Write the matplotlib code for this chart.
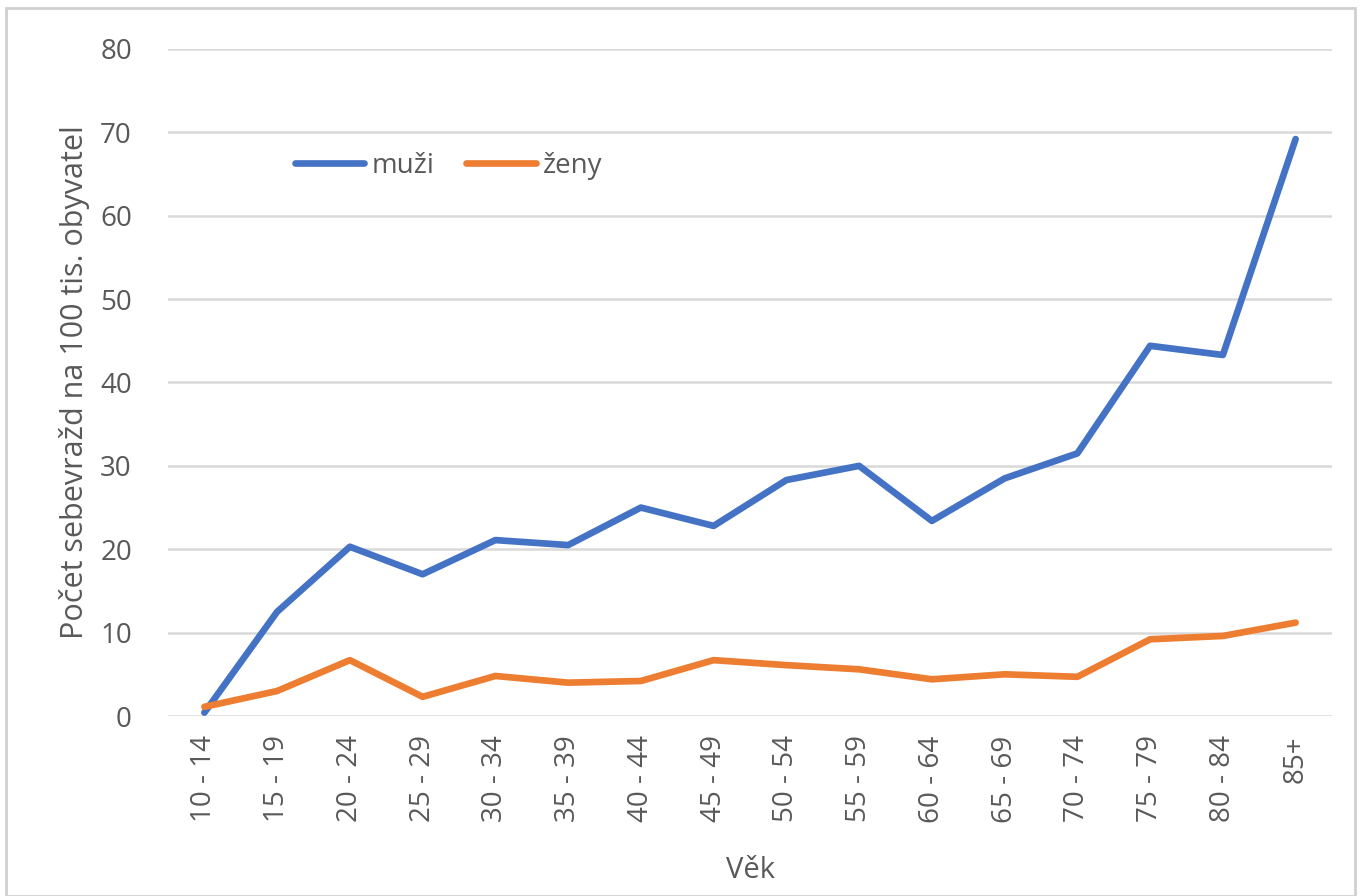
import matplotlib.pyplot as plt
from matplotlib.patches import Rectangle

plt.rcParams['font.family'] = ['Open Sans', 'DejaVu Sans']

vek = ['10 - 14', '15 - 19', '20 - 24', '25 - 29', '30 - 34', '35 - 39', '40 - 44', '45 - 49',
       '50 - 54', '55 - 59', '60 - 64', '65 - 69', '70 - 74', '75 - 79', '80 - 84', '85+']
muzi = [0.4, 12.5, 20.3, 17.0, 21.1, 20.5, 25.0, 22.8, 28.3, 30.0, 23.4, 28.5, 31.5, 44.4, 43.3, 69.2]
zeny = [1.1, 3.0, 6.7, 2.3, 4.8, 4.0, 4.2, 6.7, 6.1, 5.6, 4.4, 5.0, 4.7, 9.2, 9.6, 11.2]

text_color = '#595959'
grid_color = '#d9d9d9'

fig = plt.figure(figsize=(13.61, 8.96), dpi=100)
ax = fig.add_axes([168 / 1361, 1 - 716 / 896, (1332 - 168) / 1361, (716 - 49) / 896])

x = list(range(len(vek)))
ax.plot(x, muzi, color='#4472C4', lw=4.8, solid_capstyle='round', label='muži')
ax.plot(x, zeny, color='#ED7D31', lw=4.8, solid_capstyle='round', label='ženy')

ax.set_xlim(-0.5, len(vek) - 0.5)
ax.set_ylim(0, 80)
ax.set_yticks(range(0, 81, 10))
ax.set_xticks(x)
ax.set_xticklabels(vek, rotation=90)
ax.grid(axis='y', color=grid_color, lw=1.8)
ax.set_axisbelow(True)
for s in ax.spines.values():
    s.set_visible(False)
ax.tick_params(axis='both', length=0, labelsize=20, colors=text_color)
ax.tick_params(axis='y', pad=26)
ax.tick_params(axis='x', pad=14)

ax.set_ylabel('Počet sebevražd na 100 tis. obyvatel', fontsize=22, color=text_color, va='center')
ax.yaxis.set_label_coords(-0.08, 0.5)
ax.set_xlabel('Věk', fontsize=21, color=text_color, va='center')
ax.xaxis.set_label_coords(0.5, -0.231)

leg = ax.legend(loc='center left', bbox_to_anchor=(0.109, 0.8246), ncol=2, frameon=False,
                fontsize=20, handlelength=2.5, handletextpad=0.25, columnspacing=1.15,
                borderpad=0, borderaxespad=0)
for t in leg.get_texts():
    t.set_color(text_color)

fig.patches.append(Rectangle((6 / 1361, 0), 1 - 12 / 1361, 1 - 8 / 896, transform=fig.transFigure,
                             fill=False, edgecolor='#d0d0d0', lw=2))

fig.savefig('out.png', dpi=100)
